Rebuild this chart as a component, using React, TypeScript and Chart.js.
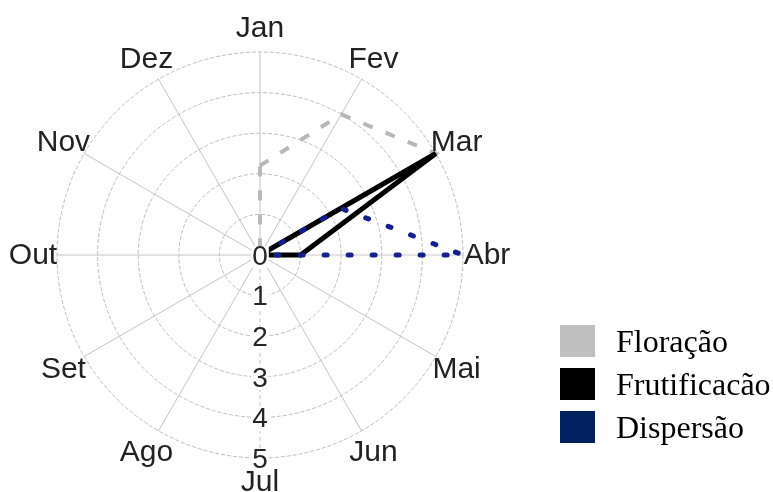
import React, { useEffect, useRef } from "react";
import { Chart, registerables } from "chart.js";

Chart.register(...registerables);

const months = ["Jan", "Fev", "Mar", "Abr", "Mai", "Jun", "Jul", "Ago", "Set", "Out", "Nov", "Dez"];
const floracao = [2.2, 4, 5, 0, 0, 0, 0, 0, 0, 0, 0, 0];
const frutificacao = [0, 0, 5, 1, 0, 0, 0, 0, 0, 0, 0, 0];
const dispersao = [0, 0, 2.3, 5, 0, 0, 0, 0, 0, 0, 0, 0];
const seriesNames = ["Floração", "Frutificacão", "Dispersão"];
const legendColors = ["#bfbfbf", "#000000", "#00205f"];
const tickValues = [0, 1, 2, 3, 4, 5];

const labelPlugin = {
  id: "customLabels",
  afterDraw(chart: any) {
    const scale = chart.scales.r;
    const ctx = chart.ctx;
    ctx.save();
    ctx.textAlign = "center";
    ctx.textBaseline = "middle";
    // point labels
    ctx.fillStyle = "#222222";
    ctx.font = "30px 'Liberation Sans', Arial, sans-serif";
    const labels: string[] = chart.data.labels;
    labels.forEach((lab, i) => {
      const p = scale.getPointPosition(i, scale.drawingArea + 24);
      ctx.fillText(lab, p.x, p.y + 1);
    });
    // tick labels along the Jul axis, with a white backdrop
    ctx.font = "28px 'Liberation Sans', Arial, sans-serif";
    const julIndex = labels.indexOf("Jul");
    tickValues.forEach((v) => {
      const p = scale.getPointPositionForValue(julIndex, v);
      const w = ctx.measureText(String(v)).width;
      ctx.fillStyle = "#ffffff";
      ctx.fillRect(p.x - w / 2 - 1, p.y - 9, w + 2, 22);
      ctx.fillStyle = "#262626";
      ctx.fillText(String(v), p.x, p.y + 2);
    });
    ctx.restore();
  },
};

export default function App() {
  const ref = useRef<HTMLCanvasElement | null>(null);

  useEffect(() => {
    if (!ref.current) return;
    const chart = new Chart(ref.current, {
      type: "radar",
      data: {
        labels: months,
        datasets: [
          {
            label: seriesNames[0],
            data: floracao,
            borderColor: "#b8b8b8",
            borderWidth: 4,
            borderDash: [10, 14],
            fill: false,
            pointRadius: 0,
            order: 2,
          },
          {
            label: seriesNames[1],
            data: frutificacao,
            borderColor: "#000000",
            borderWidth: 5,
            fill: false,
            pointRadius: 0,
            order: 1,
          },
          {
            label: seriesNames[2],
            data: dispersao,
            borderColor: "#141e8c",
            borderWidth: 5,
            borderDash: [3, 21],
            borderCapStyle: "round",
            fill: false,
            pointRadius: 0,
            order: 0,
          },
        ],
      },
      options: {
        responsive: false,
        animation: false,
        layout: { padding: { left: 57, top: 52, right: 310, bottom: 34 } },
        plugins: { legend: { display: false }, tooltip: { enabled: false } },
        scales: {
          r: {
            min: 0,
            max: 5,
            ticks: { display: false, stepSize: 1 },
            pointLabels: { display: false },
            grid: { circular: true, color: "#bdbdbd", lineWidth: 1 },
            border: { dash: [4, 2] },
            angleLines: {
              color: "#c4c4c4",
              lineWidth: 1,
              borderDash: (c: any) => (c.index === 6 ? [4, 3] : []),
            },
          },
        },
      },
      plugins: [labelPlugin],
    } as any);
    return () => chart.destroy();
  }, []);

  return (
    <div style={{ position: "fixed", left: 0, top: 0, width: 773, height: 492, background: "#fff" }}>
      <canvas ref={ref} width={773} height={492} style={{ position: "absolute", left: 0, top: 0 }} />
      <div style={{ position: "absolute", left: 560, top: 325 }}>
        {seriesNames.map((name, i) => (
          <div key={name} style={{ display: "flex", alignItems: "center", height: 32, marginBottom: 11 }}>
            <div style={{ width: 35, height: 32, background: legendColors[i] }} />
            <span
              style={{
                marginLeft: 21,
                fontFamily: "'Liberation Serif', 'Times New Roman', serif",
                fontSize: 32,
                lineHeight: "32px",
                color: "#000",
                whiteSpace: "nowrap",
              }}
            >
              {name}
            </span>
          </div>
        ))}
      </div>
    </div>
  );
}
